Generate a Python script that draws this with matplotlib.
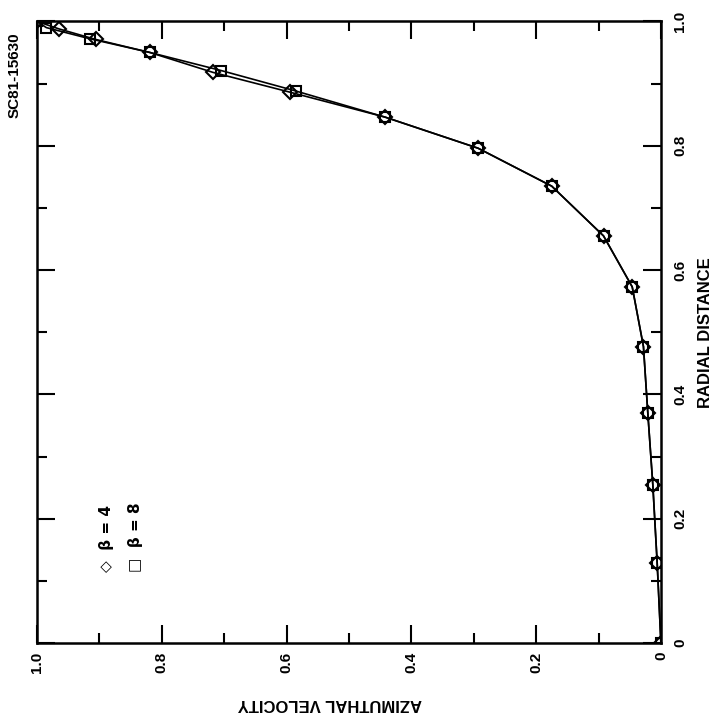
import matplotlib
matplotlib.use("Agg")
import matplotlib.pyplot as plt
from matplotlib.ticker import MultipleLocator, FixedLocator

plt.rcParams['font.family'] = ['Liberation Sans Narrow', 'Liberation Sans', 'DejaVu Sans']
plt.rcParams['font.weight'] = 'bold'

# radial distance vs azimuthal velocity (figure is printed rotated 90 deg)
radial_b4 = [0.0, 0.129, 0.255, 0.370, 0.477, 0.573, 0.655, 0.735, 0.796, 0.846, 0.886, 0.918, 0.950, 0.971, 0.988, 1.0]
veloc_b4 = [0.0, 0.006, 0.013, 0.021, 0.028, 0.046, 0.092, 0.175, 0.293, 0.442, 0.594, 0.718, 0.819, 0.906, 0.965, 1.0]
radial_b8 = [0.0, 0.129, 0.255, 0.370, 0.477, 0.573, 0.655, 0.735, 0.796, 0.846, 0.888, 0.921, 0.950, 0.972, 0.990, 1.0]
veloc_b8 = [0.0, 0.006, 0.013, 0.021, 0.028, 0.046, 0.092, 0.175, 0.293, 0.442, 0.585, 0.705, 0.819, 0.915, 0.985, 1.0]

ticks = [0.0, 0.2, 0.4, 0.6, 0.8, 1.0]
tick_labels = ['0', '0.2', '0.4', '0.6', '0.8', '1.0']

fig = plt.figure(figsize=(7.18, 7.13), dpi=100)
ax = fig.add_axes([0.0515, 0.098, 0.869, 0.872])

ax.plot(veloc_b4, radial_b4, color='black', lw=1.2, marker='D', ms=7,
        mfc='none', mec='black', mew=1.5)
ax.plot(veloc_b8, radial_b8, color='black', lw=1.2, marker='s', ms=7,
        mfc='none', mec='black', mew=1.5)

ax.set_xlim(1.0, 0.0)
ax.set_ylim(0.0, 1.0)

ax.xaxis.set_major_locator(FixedLocator(ticks))
ax.yaxis.set_major_locator(FixedLocator(ticks))
ax.xaxis.set_minor_locator(MultipleLocator(0.1))
ax.yaxis.set_minor_locator(MultipleLocator(0.1))
ax.set_xticklabels(tick_labels, rotation=90, fontsize=11, fontweight='bold')
ax.set_yticklabels(tick_labels, rotation=90, fontsize=11, fontweight='bold', va='center')

ax.yaxis.tick_right()
ax.yaxis.set_label_position('right')
ax.tick_params(which='both', direction='in', top=True, bottom=True, left=True, right=True,
               labelleft=False, labelright=True, width=1.5)
ax.tick_params(which='major', length=13)
ax.tick_params(which='minor', length=7)
ax.tick_params(axis='x', pad=6)
ax.tick_params(axis='y', pad=9)

for s in ax.spines.values():
    s.set_linewidth(1.8)

ax.set_xlabel('AZIMUTHAL VELOCITY', rotation=180, fontsize=12, fontweight='bold')
ax.xaxis.set_label_coords(0.47, -0.085)
ax.set_ylabel('RADIAL DISTANCE', rotation=90, fontsize=12, fontweight='bold')
ax.yaxis.set_label_coords(1.06, 0.5)

# legend, rotated with the figure
ax.text(0.112, 0.115, '\u25C7  \u03B2 = 4', transform=ax.transAxes, rotation=90,
        ha='center', va='bottom', fontsize=11, fontweight='bold',
        family=['DejaVu Sans'])
ax.text(0.158, 0.115, '\u25A1  \u03B2 = 8', transform=ax.transAxes, rotation=90,
        ha='center', va='bottom', fontsize=11, fontweight='bold',
        family=['DejaVu Sans'])

fig.text(15 / 718, 1 - 118 / 713, 'SC81-15630', rotation=90, ha='center', va='bottom',
         fontsize=11, fontweight='bold')

fig.savefig('out.png', dpi=100)
